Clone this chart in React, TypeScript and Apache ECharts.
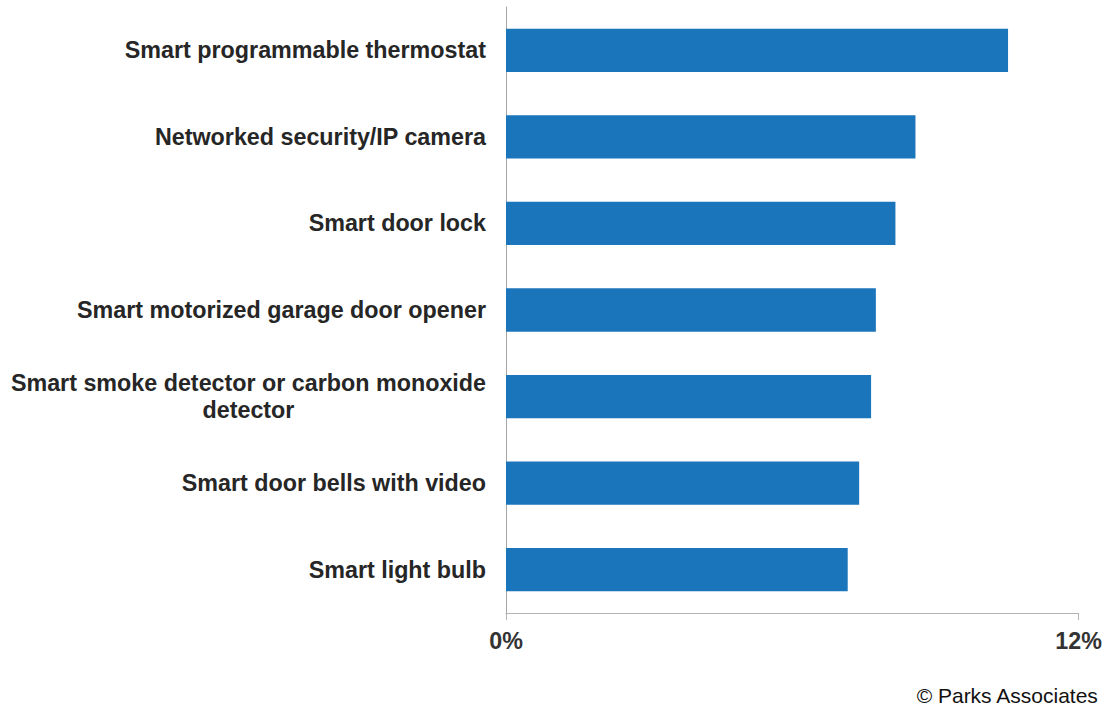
import React, { useEffect, useRef } from "react";
import * as echarts from "echarts";

const categories: string[] = [
  "Smart programmable thermostat",
  "Networked security/IP camera",
  "Smart door lock",
  "Smart motorized garage door opener",
  "Smart smoke detector or carbon monoxide\ndetector",
  "Smart door bells with video",
  "Smart light bulb",
];
const values: number[] = [10.52, 8.58, 8.16, 7.75, 7.65, 7.4, 7.16];
const xTicks = { min: 0, max: 12, interval: 12 };
const sourceNote = "© Parks Associates";

const FONT = "'Liberation Sans', Arial, Helvetica, sans-serif";

export default function App() {
  const ref = useRef<HTMLDivElement>(null);
  useEffect(() => {
    document.body.style.margin = "0";
    if (!ref.current) return;
    const chart = echarts.init(ref.current, undefined, { renderer: "svg" });
    chart.setOption({
      animation: false,
      backgroundColor: "#ffffff",
      grid: { left: 506, right: 26, top: 7, bottom: 98, containLabel: false },
      xAxis: {
        type: "value",
        min: xTicks.min,
        max: xTicks.max,
        interval: xTicks.interval,
        axisLine: { show: true, lineStyle: { color: "#b3b3b3", width: 1 } },
        axisTick: { show: true, length: 7, lineStyle: { color: "#b3b3b3" } },
        splitLine: { show: false },
        axisLabel: {
          formatter: "{value}%",
          margin: 16,
          fontSize: 23.3,
          fontWeight: "bold",
          color: "#333333",
          fontFamily: FONT,
        },
      },
      yAxis: {
        type: "category",
        data: categories,
        inverse: true,
        axisLine: { show: true, lineStyle: { color: "#a6a6a6", width: 1 } },
        axisTick: { show: false },
        axisLabel: {
          margin: 20,
          fontSize: 23.3,
          fontWeight: "bold",
          color: "#262626",
          fontFamily: FONT,
          lineHeight: 27,
          formatter: (v: string) =>
            v.indexOf("\n") >= 0
              ? v
                  .split("\n")
                  .map((s) => "{c|" + s + "}")
                  .join("\n")
              : v,
          rich: {
            c: {
              align: "center",
              fontSize: 23.3,
              fontWeight: "bold",
              color: "#262626",
              fontFamily: FONT,
              lineHeight: 27,
            },
          },
        },
      },
      series: [
        {
          type: "bar",
          data: values,
          barCategoryGap: "50%",
          itemStyle: { color: "#1b75bb" },
        },
      ],
      graphic: [
        {
          type: "text",
          right: 6,
          top: 685,
          style: {
            text: sourceNote,
            fontSize: 21,
            fontFamily: FONT,
            fill: "#111111",
          },
        },
      ],
    });
    return () => chart.dispose();
  }, []);
  return <div ref={ref} style={{ width: 1105, height: 711 }} />;
}
